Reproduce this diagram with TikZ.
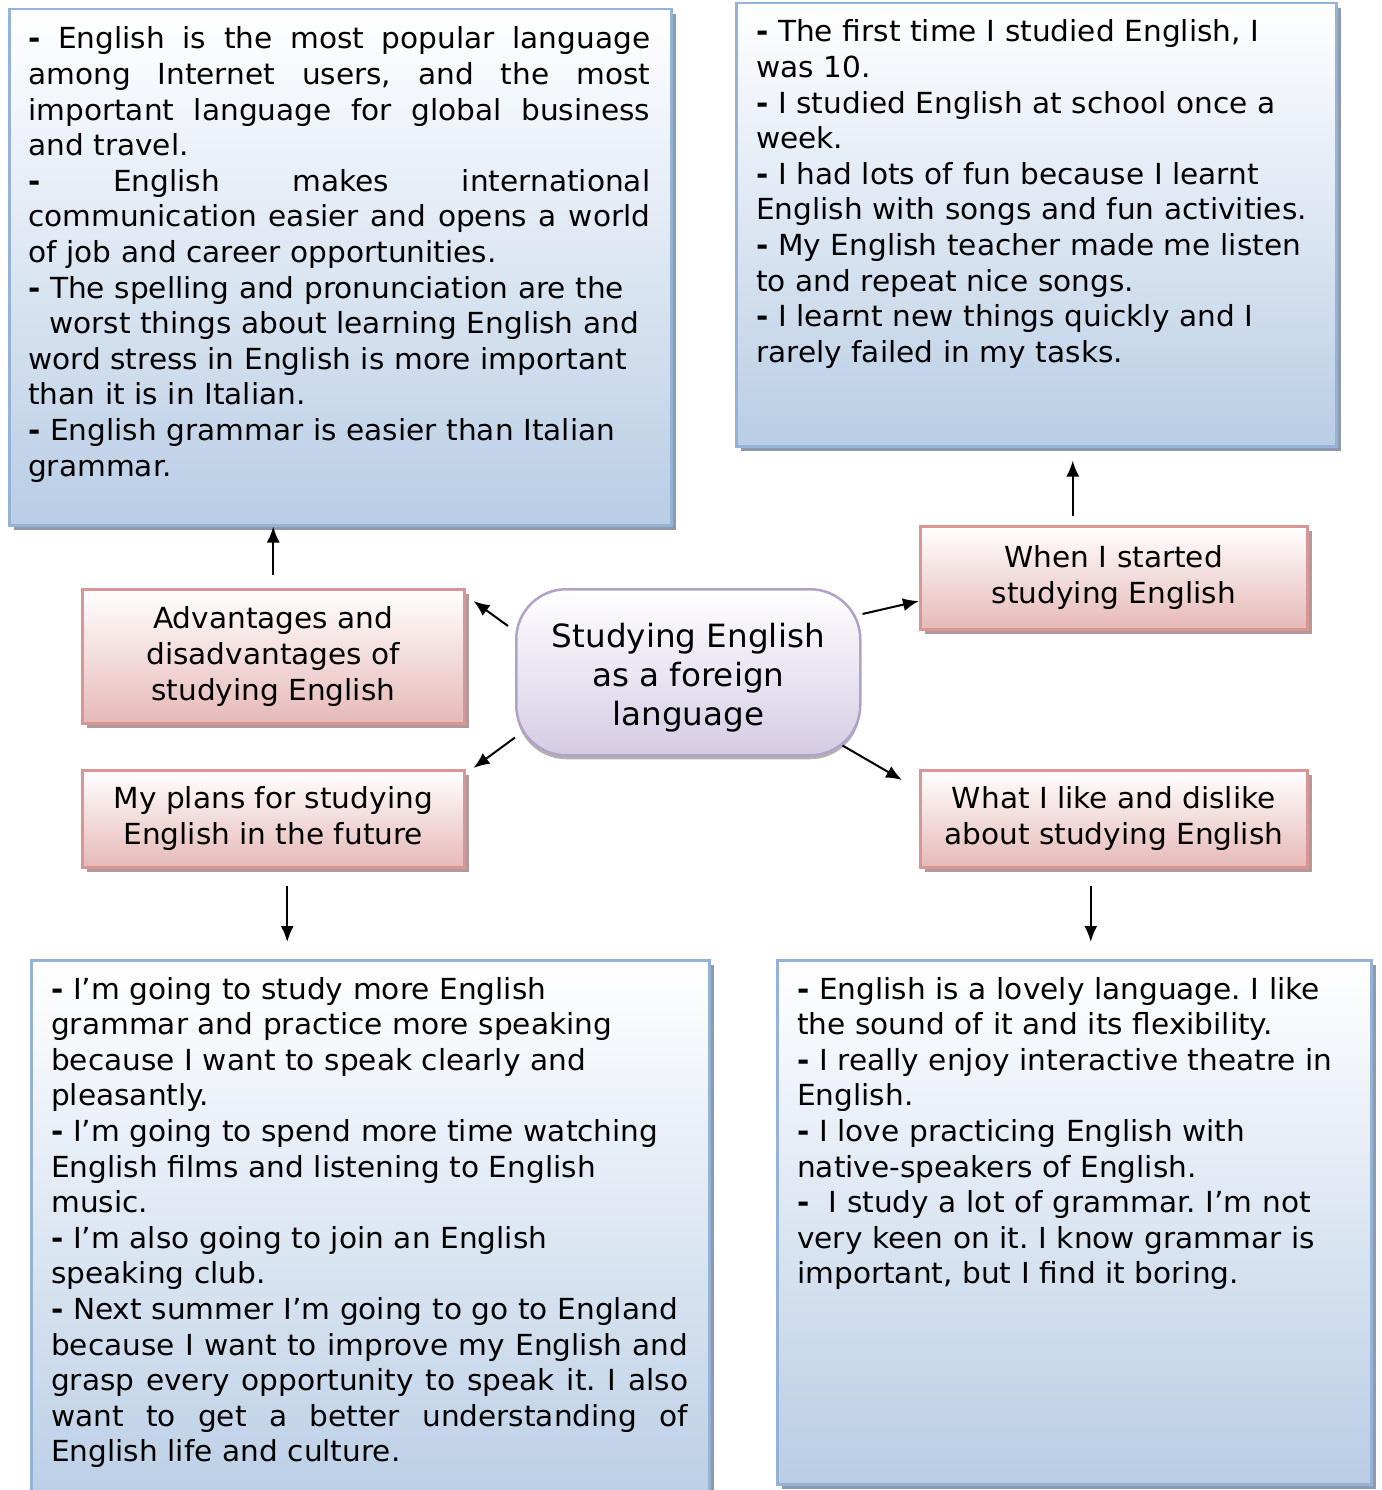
\documentclass[tikz,border=0pt]{standalone}
\usepackage{fontspec}
\setmainfont[FakeStretch=1.02]{DejaVu Sans}
\usetikzlibrary{shadows,arrows.meta}
\definecolor{bluebd}{HTML}{95B3D7}
\definecolor{bluebot}{HTML}{B9CDE5}
\definecolor{blueshadow}{HTML}{8E9BAE}
\definecolor{pinkbd}{HTML}{D99694}
\definecolor{pinkbot}{HTML}{E6B9B8}
\definecolor{pinkshadow}{HTML}{B39A9A}
\definecolor{lavbd}{HTML}{B3A2C7}
\definecolor{lavbot}{HTML}{D5CCE4}
\newcommand{\dsh}{\textbf{-}}
\newcommand{\jl}[2]{{\spaceskip=.3333em plus 20em\relax\xspaceskip=\spaceskip\makebox[#1][s]{#2}}}
\frenchspacing
\begin{document}
\begin{tikzpicture}[x=1pt,y=-1pt,
  bluebox/.style={draw=bluebd, line width=2.5pt, top color=white, bottom color=bluebot,
    drop shadow={shadow xshift=5pt, shadow yshift=-5pt, fill=blueshadow, opacity=1},
    inner sep=0pt, anchor=north west},
  pinkbox/.style={draw=pinkbd, line width=2.5pt, top color=white, bottom color=pinkbot,
    drop shadow={shadow xshift=5pt, shadow yshift=-5pt, fill=pinkshadow, opacity=1},
    inner sep=0pt, anchor=north west, align=center,
    font=\fontsize{29}{36}\selectfont\frenchspacing},
  centerbox/.style={draw=lavbd, line width=2.5pt, top color=white, bottom color=lavbot,
    rounded corners=50pt,
    drop shadow={shadow xshift=0pt, shadow yshift=-4pt, fill=gray!60, opacity=1},
    inner sep=0pt, anchor=north west, align=center,
    font=\fontsize{32}{39}\selectfont},
  body/.style={anchor=base west, inner sep=0pt, align=left,
    font=\fontsize{29}{35.6}\selectfont\frenchspacing},
  arr/.style={line width=2pt, -{Latex[length=16pt,width=13pt]}}
]
\useasboundingbox (0,0) rectangle (1381,1490);

% blue boxes
\node[bluebox, minimum width=662pt, minimum height=516pt] (tl) at (8,8) {};
\node[bluebox, minimum width=600pt, minimum height=443pt] (tr) at (735,2) {};
\node[bluebox, minimum width=678pt, minimum height=560pt] (bl) at (30,959) {};
\node[bluebox, minimum width=594pt, minimum height=524pt] (br) at (776,959) {};

% pink boxes
\node[pinkbox, minimum width=382pt, minimum height=134pt] (adv) at (81,588)
  {Advantages and\\disadvantages of\\studying English};
\node[pinkbox, minimum width=382pt, minimum height=97pt] (plans) at (81,769)
  {My plans for studying\\English in the future};
\node[pinkbox, minimum width=387pt, minimum height=103pt] (when) at (919,525)
  {When I started\\studying English};
\node[pinkbox, minimum width=387pt, minimum height=97pt] (like) at (919,769)
  {What I like and dislike\\about studying English};

% center
\node[centerbox, minimum width=344pt, minimum height=166pt] (ctr) at (515,588)
  {\rule{0pt}{36pt}Studying English\\as a foreign\\language};

% texts
\node[body, text width=622pt] (tltext) at (28,49) {%
\jl{622pt}{\dsh{} English is the most popular language}\\
\jl{622pt}{among Internet users, and the most}\\
\jl{622pt}{important language for global business}\\
and travel.\\
\jl{622pt}{\dsh{} English makes international}\\
\jl{622pt}{communication easier and opens a world}\\
of job and career opportunities.\\
\dsh{} The spelling and pronunciation are the\\
\hspace*{21pt}worst things about learning English and\\
word stress in English is more important\\
than it is in Italian.\\
\dsh{} English grammar is easier than Italian\\
grammar.};

\node[body, text width=570pt] (trtext) at (756,42) {%
\dsh{} The first time I studied English, I\\
was 10.\\
\dsh{} I studied English at school once a\\
week.\\
\dsh{} I had lots of fun because I learnt\\
English with songs and fun activities.\\
\dsh{} My English teacher made me listen\\
to and repeat nice songs.\\
\dsh{} I learnt new things quickly and I\\
rarely failed in my tasks.};

\node[body, text width=637pt] (bltext) at (51,999) {%
\dsh{} I’m going to study more English\\
grammar and practice more speaking\\
because I want to speak clearly and\\
pleasantly.\\
\dsh{} I’m going to spend more time watching\\
English films and listening to English\\
music.\\
\dsh{} I’m also going to join an English\\
speaking club.\\
\dsh{} Next summer I’m going to go to England\\
\jl{637pt}{because I want to improve my English and}\\
\jl{637pt}{grasp every opportunity to speak it. I also}\\
\jl{637pt}{want to get a better understanding of}\\
English life and culture.};

\node[body, text width=560pt] (brtext) at (797,999) {%
\dsh{} English is a lovely language. I like\\
the sound of it and its flexibility.\\
\dsh{} I really enjoy interactive theatre in\\
English.\\
\dsh{} I love practicing English with\\
native-speakers of English.\\
\dsh{}\ \ I study a lot of grammar. I’m not\\
very keen on it. I know grammar is\\
important, but I find it boring.};

% arrows
\draw[arr] ([shift={(-7,38)}]ctr.north west) -- ([shift={(8,13)}]adv.north east);
\draw[arr] ([shift={(0,-19)}]ctr.south west) -- ([shift={(8,-1)}]plans.north east);
\draw[arr] ([shift={(1,26)}]ctr.north east) -- ([shift={(0,76)}]when.north west);
\draw[arr] ([shift={(-19,-11)}]ctr.south east) -- ([shift={(-17,11)}]like.north west);
\draw[arr] ([shift={(0,-13)}]adv.north) -- (adv.north |- tl.south);
\draw[arr] ([shift={(-41,-9)}]when.north) -- ([shift={(-41,13)}]when.north |- tr.south);
\draw[arr] ([shift={(14,17)}]plans.south) -- ([shift={(14,-17)}]plans.south |- bl.north);
\draw[arr] ([shift={(-23,17)}]like.south) -- ([shift={(-23,-17)}]like.south |- br.north);
\end{tikzpicture}
\end{document}
